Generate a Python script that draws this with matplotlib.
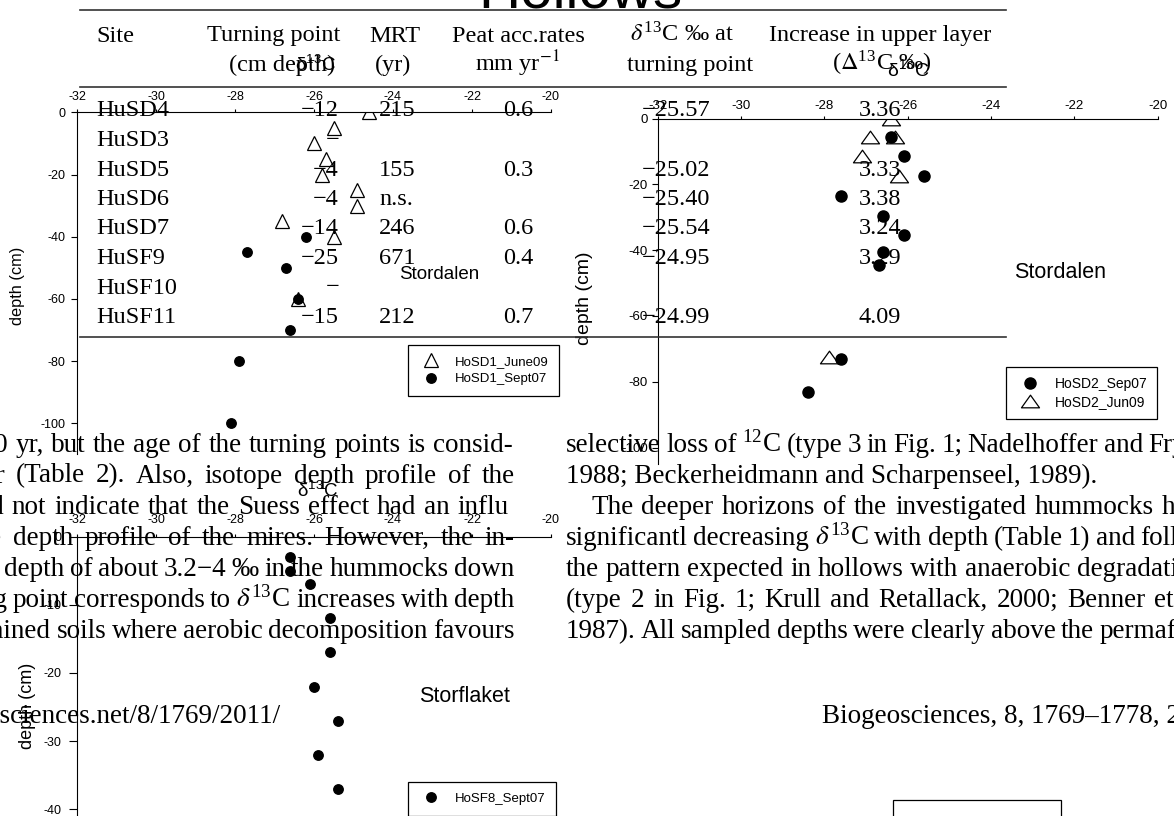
import matplotlib
matplotlib.use("Agg")
import matplotlib.pyplot as plt
from matplotlib.patches import Rectangle
from matplotlib.lines import Line2D
from matplotlib.path import Path

plt.rcParams['axes.unicode_minus'] = False
plt.rcParams['mathtext.fontset'] = 'stix'
plt.rcParams['font.family'] = ['Liberation Sans', 'DejaVu Sans']

# ---------------- data ----------------
sites = ["HuSD4", "HuSD3", "HuSD5", "HuSD6", "HuSD7", "HuSF9", "HuSF10", "HuSF11"]
turning_point = ["\u221212", "\u2212", "\u22124", "\u22124", "\u221214", "\u221225", "\u2212", "\u221215"]
mrt = ["215", "", "155", "n.s.", "246", "671", "", "212"]
peat_rate = ["0.6", "", "0.3", "", "0.6", "0.4", "", "0.7"]
d13c_turning = ["\u221225.57", "", "\u221225.02", "\u221225.40", "\u221225.54", "\u221224.95", "", "\u221224.99"]
increase_upper = ["3.36", "", "3.33", "3.38", "3.24", "3.29", "", "4.09"]

hosd1_jun09_d13c = [-24.6, -25.5, -26.0, -25.7, -25.8, -24.9, -24.9, -26.8, -25.5, -26.4]
hosd1_jun09_depth = [0, -5, -10, -15, -20, -25, -30, -35, -40, -60]
hosd1_sep07_d13c = [-26.2, -27.7, -26.7, -26.4, -26.6, -27.9, -28.1]
hosd1_sep07_depth = [-40, -45, -50, -60, -70, -80, -100]

hosd2_sep07_d13c = [-26.4, -26.1, -25.6, -27.6, -26.6, -26.1, -26.6, -26.7, -27.6, -28.4]
hosd2_sep07_depth = [-5.5, -11.5, -17.5, -23.5, -29.5, -35.5, -40.5, -44.5, -73, -83]
hosd2_jun09_d13c = [-26.4, -26.9, -26.3, -27.1, -26.2, -27.9]
hosd2_jun09_depth = [0, -5.5, -5.5, -11.5, -17.5, -72.5]

hosf8_sep07_d13c = [-26.6, -26.6, -26.1, -25.6, -25.6, -26.0, -25.4, -25.9, -25.4]
hosf8_sep07_depth = [-3, -5, -7, -12, -17, -22, -27, -32, -37]

x_ticks = [-32, -30, -28, -26, -24, -22, -20]
y_ticks_a = [0, -20, -40, -60, -80, -100]
y_ticks_c = [0, -10, -20, -30, -40]

D13 = "$\\delta^{\\mathregular{13}}$C"
# (text, anchor word index, x where that word starts, right end x)
body_left = [
    ("about 100\u2013300 yr, but the age of the turning points is consid-", 2, 15.3, 513),
    ("erably older (Table 2). Also, isotope depth profile of the", 2, 15.3, 514.7),
    ("the peat did not indicate that the Suess effect had an influ", 3, 11.5, 509),
    ("ence on the depth profile of the mires. However, the in-", 3, 13.4, 514.7),
    ("crease with depth of about 3.2\u22124 \u2030 in the hummocks down", 2, 3.8, 514.7),
    ("to the turning point corresponds to " + D13 + " increases with depth", 3, 15.3, 514.7),
    ("in well-drained soils where aerobic decomposition favours", 2, 59.3, 514.7),
]
# (text, left x, anchor word index, x where that word starts)
body_right = [
    ("selective loss of $^{\\mathregular{12}}$C (type 3 in Fig. 1; Nadelhoffer and Fry,", 566, 10, 987),
    ("1988; Beckerheidmann and Scharpenseel, 1989).", 566, None, None),
    ("The deeper horizons of the investigated hummocks had", 591, 7, 1162),
    ("significantl decreasing " + D13 + " with depth (Table 1) and followed", 566, 8, 1127),
    ("the pattern expected in hollows with anaerobic degradation", 566, 7, 1077),
    ("(type 2 in Fig. 1; Krull and Retallack, 2000; Benner et al.,", 566, 9, 1067),
    ("1987). All sampled depths were clearly above the permafrost", 566, 8, 1089),
]

# ---------------- figure ----------------
W, H = 1174, 816
fig = plt.figure(figsize=(W / 100, H / 100), dpi=100)
renderer = fig.canvas.get_renderer()


def fx(x):
    return x / W


def fy(y):
    return 1 - y / H


SERIF = ['Liberation Serif', 'DejaVu Serif']
SANS = ['Liberation Sans', 'DejaVu Sans']


def ftext(x, y, s, size, ha='left', family=SERIF, va='baseline'):
    return fig.text(fx(x), fy(y), s, ha=ha, va=va, fontsize=size, family=family, color='black')


def word_width(w, size):
    t = fig.text(0, 0, w, fontsize=size, family=SERIF)
    wd = t.get_window_extent(renderer).width
    t.remove()
    return wd


def justified_line(text, y, size, k, xk, x_left=None, x_right=None):
    words = text.split()
    widths = [word_width(w, size) for w in words]
    n = len(words)
    em = size * 100 / 72
    lo, hi = 0.2 * em, 0.42 * em
    if x_left is not None:
        gap = (xk - x_left - sum(widths[:k])) / k
        gap = min(max(gap, lo), hi)
        x = x_left
    else:
        gap = (x_right - xk - sum(widths[k:])) / (n - 1 - k)
        gap = min(max(gap, lo), hi)
        x = x_right - sum(widths) - gap * (n - 1)
    for w, wd in zip(words, widths):
        ftext(x, y, w, size)
        x += wd + gap


# title (cut at top)
ftext(580, 7, "Hollows", 42, ha='center', family=SANS)

# table rules
for yy in (9.5, 87, 337):
    fig.add_artist(Line2D([fx(80), fx(1006)], [fy(yy), fy(yy)], transform=fig.transFigure,
                          color='#333333', lw=1.2))

TS = 17.5
PERMIL = "\u2030"
ftext(96, 41.5, "Site", TS)
ftext(274, 41.5, "Turning point", TS, ha='center')
ftext(282.5, 71, "(cm depth)", TS, ha='center')
ftext(395, 41.5, "MRT", TS, ha='center')
ftext(393, 71, "(yr)", TS, ha='center')
ftext(518.5, 41.5, "Peat acc.rates", TS, ha='center')
ftext(517, 71, "mm yr$^{-1}$", TS, ha='center')
ftext(681.5, 41.5, D13 + " " + PERMIL + " at", TS, ha='center')
ftext(690, 71, "turning point", TS, ha='center')
ftext(880, 41.5, "Increase in upper layer", TS, ha='center')
ftext(882, 71, "($\\Delta^{\\mathregular{13}}$C " + PERMIL + ")", TS, ha='center')

row_base0, row_step = 116.5, 29.5
for i in range(len(sites)):
    yb = row_base0 + row_step * i
    ftext(96, yb, sites[i], TS)
    ftext(339, yb, turning_point[i], TS, ha='right')
    ftext(379, yb, mrt[i], TS)
    ftext(518, yb, peat_rate[i], TS, ha='center')
    ftext(642, yb, d13c_turning[i], TS)
    ftext(880, yb, increase_upper[i], TS, ha='center')

# body text (two justified columns, cut by the page crop)
BS = 19.5
for i, (s, k, xk, xr) in enumerate(body_left):
    justified_line(s, 451.5 + 31.1 * i, BS, k, xk, x_right=xr)
for i, (s, xl, k, xk) in enumerate(body_right):
    yb = 451.5 + 31.1 * i
    if k is None:
        ftext(xl, yb, s, BS)
    else:
        justified_line(s, yb, BS, k, xk, x_left=xl)
ftext(281, 723, "www.biogeosciences.net/8/1769/2011/", BS, ha='right')
ftext(822, 723, "Biogeosciences, 8, 1769\u20131778, 2011", BS)

# bottom-right box (legend of a hidden panel)
fig.add_artist(Rectangle((fx(892.5), fy(840)), (1061 - 892.5) / W, 40 / H, transform=fig.transFigure,
                         fill=False, ec='black', lw=0.9))


# ---------------- panels ----------------
def make_panel(box, ylim, yticks, tsize, ylen, ypad, xpad):
    left, right, top, bottom = box
    ax = fig.add_axes([fx(left), fy(bottom), (right - left) / W, (bottom - top) / H])
    ax.patch.set_visible(False)
    ax.set_xlim(-32, -20)
    ax.set_ylim(*ylim)
    ax.set_xticks(x_ticks)
    ax.set_yticks(yticks)
    for sp in ('right', 'bottom'):
        ax.spines[sp].set_visible(False)
    for sp in ('left', 'top'):
        ax.spines[sp].set_linewidth(0.8)
    ax.xaxis.set_ticks_position('top')
    ax.xaxis.set_label_position('top')
    ax.tick_params(axis='x', direction='out', length=2.5, width=0.8, pad=xpad, labelsize=tsize)
    ax.tick_params(axis='y', direction='out', length=ylen, width=0.8, pad=ypad, labelsize=tsize)
    return ax


def place_labels(ax, box, xl, yl, xsize, ysize):
    left, right, top, bottom = box
    ax.set_xlabel("\u03b4$^{\\mathregular{13}}$C", fontsize=xsize)
    ax.xaxis.set_label_coords((xl[0] - left) / (right - left), (bottom - xl[1]) / (bottom - top))
    ax.set_ylabel("depth (cm)", fontsize=ysize)
    ax.yaxis.set_label_coords((yl[0] - left) / (right - left), (bottom - yl[1]) / (bottom - top))


tri_path = Path([(-1.0, -0.7), (1.0, -0.7), (0.0, 0.7), (-1.0, -0.7)],
                [Path.MOVETO, Path.LINETO, Path.LINETO, Path.CLOSEPOLY])

# Panel A: Stordalen HoSD1
boxA = (77, 551, 112.3, 112.3 + 110 * 3.11)
axA = make_panel(boxA, (-110, 0), y_ticks_a, 9, 4, 4.5, 4)
hA1, = axA.plot(hosd1_jun09_d13c, hosd1_jun09_depth, ls='none', marker='^', ms=9.5,
                mfc='none', mec='black', mew=0.9, label='HoSD1_June09')
hA2, = axA.plot(hosd1_sep07_d13c, hosd1_sep07_depth, ls='none', marker='o', ms=6.8,
                mfc='black', mec='black', label='HoSD1_Sept07')
axA.text(-22.83, -52, "Stordalen", fontsize=13.5, ha='center', va='center')
place_labels(axA, boxA, (316, 71), (25, 286), 13.5, 11.8)
legA = axA.legend(handles=[hA1, hA2], loc='upper left', bbox_to_anchor=(fx(407.6), fy(345)),
                  bbox_transform=fig.transFigure, borderaxespad=0, fancybox=False,
                  edgecolor='black', framealpha=1, fontsize=9.5, borderpad=0.8,
                  labelspacing=0.4, handlelength=2.0, handletextpad=0.8)
legA.get_frame().set_linewidth(0.9)

# Panel B: Stordalen HoSD2
boxB = (657.7, 1157.7, 118.6, 118.6 + 105 * 3.29)
axB = make_panel(boxB, (-105, 0), y_ticks_a, 9.5, 4, 3, 2.6)
hB1, = axB.plot(hosd2_sep07_d13c, hosd2_sep07_depth, ls='none', marker='o', ms=8,
                mfc='black', mec='black', label='HoSD2_Sep07')
hB2, = axB.plot(hosd2_jun09_d13c, hosd2_jun09_depth, ls='none', marker=tri_path, ms=13,
                mfc='none', mec='black', mew=0.9, label='HoSD2_Jun09')
axB.text(-22.35, -46.9, "Stordalen", fontsize=15.5, ha='center', va='center')
place_labels(axB, boxB, (908, 77), (593, 298.5), 14, 14)
legB = axB.legend(handles=[hB1, hB2], loc='upper left', bbox_to_anchor=(fx(1006), fy(367)),
                  bbox_transform=fig.transFigure, borderaxespad=0, fancybox=False,
                  edgecolor='black', framealpha=1, fontsize=10, borderpad=0.7,
                  labelspacing=0.3, handlelength=2.0, handletextpad=0.8)
legB.get_frame().set_linewidth(0.9)

# Panel C: Storflaket HoSF8
boxC = (77, 551, 536.5, 536.5 + 45 * 6.82)
axC = make_panel(boxC, (-45, 0), y_ticks_c, 9, 5.5, 6, 4.8)
hC1, = axC.plot(hosf8_sep07_d13c, hosf8_sep07_depth, ls='none', marker='o', ms=6.8,
                mfc='black', mec='black', label='HoSF8_Sept07')
axC.text(-22.18, -23.5, "Storflaket", fontsize=15.5, ha='center', va='center')
place_labels(axC, boxC, (317.6, 497), (36, 706), 13.5, 13)
legC = axC.legend(handles=[hC1], loc='upper left', bbox_to_anchor=(fx(407.6), fy(782.3)),
                  bbox_transform=fig.transFigure, borderaxespad=0, fancybox=False,
                  edgecolor='black', framealpha=1, fontsize=9.5, borderpad=0.8,
                  labelspacing=1.5, handlelength=2.0, handletextpad=0.8)
legC.get_frame().set_linewidth(0.9)

fig.savefig("out.png", dpi=100)
